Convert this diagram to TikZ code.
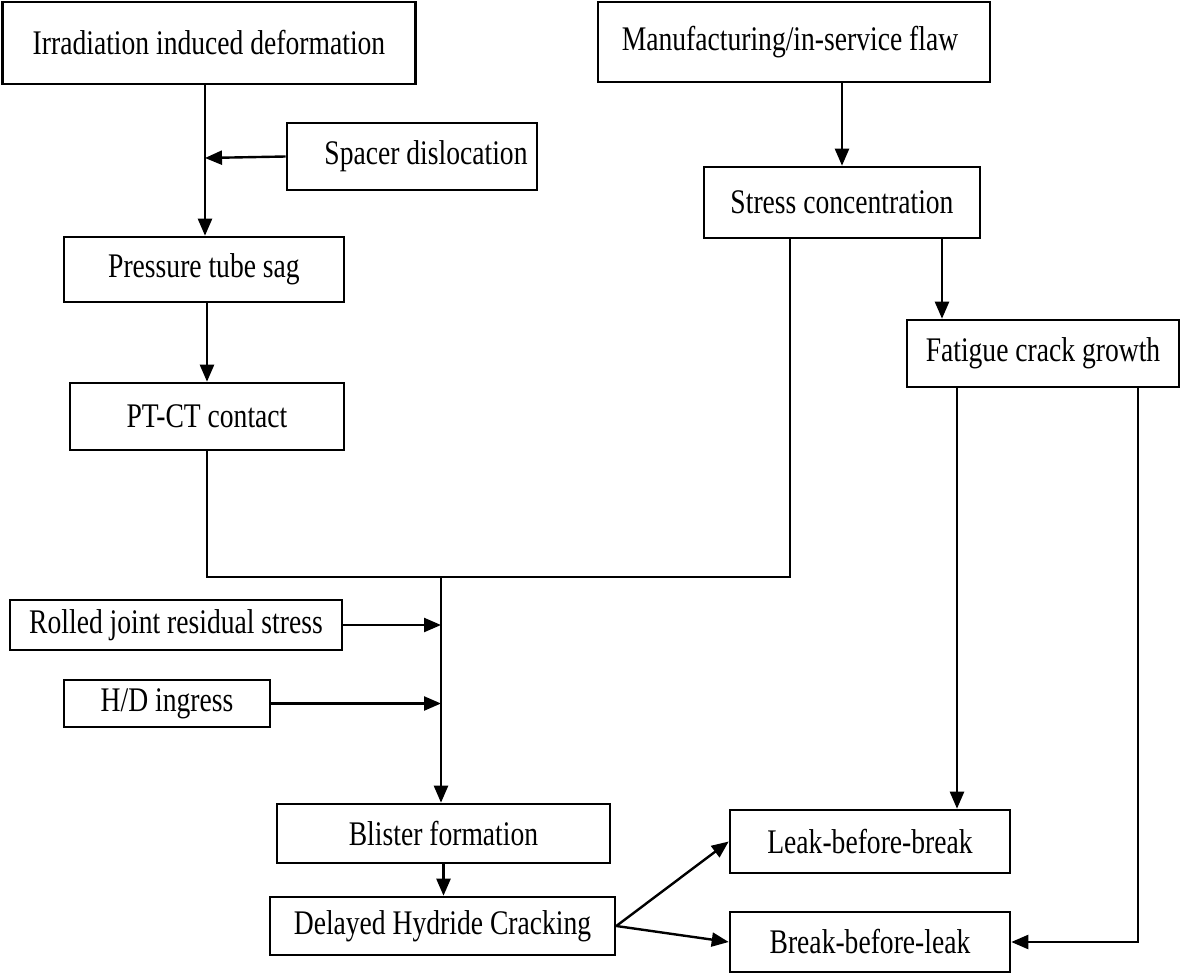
\documentclass[tikz,border=0pt]{standalone}
\usepackage{fontspec}
\setmainfont{Liberation Serif}[FakeStretch=0.8]
\usetikzlibrary{arrows.meta}
\begin{document}
\begin{tikzpicture}[x=1pt,y=-1pt,
  box/.style={draw,line width=2.6pt,inner sep=0pt,font=\fontsize{34.5}{40}\selectfont},
  con/.style={line width=2.4pt},
  arr/.style={con,-{Triangle[length=17pt,width=14pt]}}]
\useasboundingbox (0,0) rectangle (1181,974);
\node[box,minimum width=413pt,minimum height=82pt] (irr) at (209,43) {Irradiation induced deformation};
\node[box,minimum width=392pt,minimum height=80pt] (man) at (794,42) {Manufacturing/in-service flaw\hspace*{8pt}};
\node[box,minimum width=250pt,minimum height=67pt] (spacer) at (412,156.5) {\hspace*{28pt}Spacer dislocation};
\node[box,minimum width=276pt,minimum height=71pt] (stress) at (842,202.5) {Stress concentration};
\node[box,minimum width=280pt,minimum height=65pt] (ptsag) at (204,269.5) {Pressure tube sag};
\node[box,minimum width=272pt,minimum height=67pt] (fat) at (1043,353.5) {Fatigue crack growth};
\node[box,minimum width=274pt,minimum height=67pt] (ptct) at (207,416.5) {PT-CT contact};
\node[box,minimum width=332pt,minimum height=50pt] (rolled) at (176,625) {Rolled joint residual stress};
\node[box,minimum width=206pt,minimum height=47pt] (hd) at (167,703.5) {H/D ingress};
\node[box,minimum width=333pt,minimum height=59pt] (blister) at (443.5,833.5) {Blister formation};
\node[box,minimum width=280pt,minimum height=63pt] (leak) at (870,841.5) {Leak-before-break};
\node[box,minimum width=345pt,minimum height=58pt] (dhc) at (442.5,926) {Delayed Hydride Cracking};
\node[box,minimum width=280pt,minimum height=60pt] (brk) at (870,942) {Break-before-leak};
\coordinate (j1) at (205,158);
\coordinate (m) at (441,577);
\coordinate (sc) at (790,577);
\coordinate (f1) at (942,0);
\coordinate (f2) at (957,0);
\coordinate (f3) at (1138,0);
\draw[arr] (irr.south -| j1) -- (ptsag.north -| j1);
\draw[arr] (spacer.west) -- (j1);
\draw[arr] (ptsag.south -| ptct.north) -- (ptct.north);
\draw[arr] (man.south -| stress.north) -- (stress.north);
\draw[arr] (stress.south -| f1) -- (fat.north -| f1);
\draw[con] (ptct.south) |- (sc) -- (stress.south -| sc);
\draw[arr] (m) -- (blister.north -| m);
\draw[arr] (rolled.east) -- (rolled.east -| m);
\draw[arr] (hd.east) -- (hd.east -| m);
\draw[arr] (blister.south) -- (blister.south |- dhc.north);
\draw[arr] (dhc.east) -- (leak.west);
\draw[arr] (dhc.east) -- (brk.west);
\draw[arr] (fat.south -| f2) -- (leak.north -| f2);
\draw[arr] (fat.south -| f3) |- (brk.east);
\end{tikzpicture}
\end{document}
